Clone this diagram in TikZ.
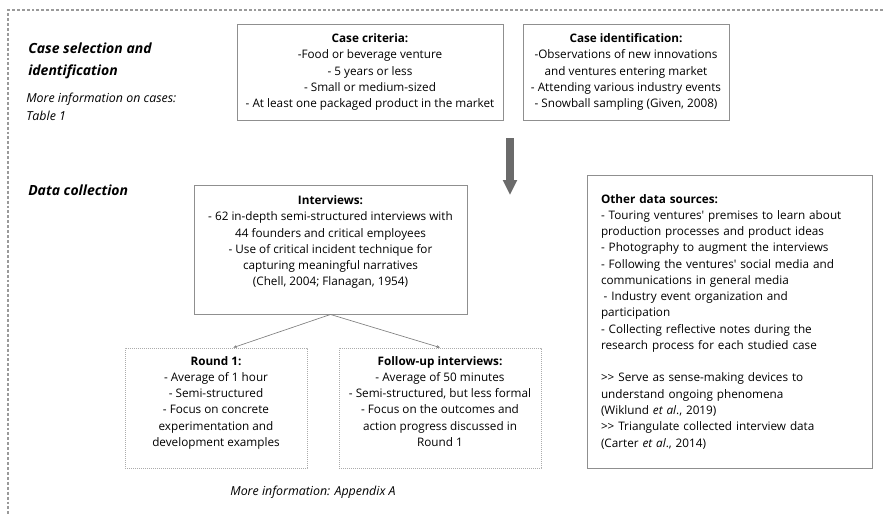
\documentclass[tikz,border=0pt]{standalone}
\usepackage{fontspec}
\setmainfont{Open Sans}
\usetikzlibrary{arrows.meta}
\definecolor{frameGray}{HTML}{9A9A9A}
\definecolor{boxGray}{HTML}{8F8F8F}
\definecolor{roundGray}{HTML}{ABABAB}
\definecolor{arrowGray}{HTML}{6B6B6B}
\newcommand{\boxfont}{\fontsize{8.8}{12.2}\selectfont}
\newcommand{\headfont}{\fontsize{10.5}{16.5}\selectfont\bfseries\itshape}
\newcommand{\notefont}{\fontsize{9.3}{13.5}\selectfont\itshape}
\newcommand{\dblgt}{\textgreater\kern0pt\textgreater}
\newcommand{\sq}{\textquotesingle}
\tikzset{
  box/.style={draw=boxGray, line width=0.7pt, align=center, font=\boxfont, inner sep=2pt},
  roundbox/.style={box, draw=roundGray, dash pattern=on 0.6pt off 0.9pt},
  heading/.style={font=\headfont, anchor=west, align=left, inner sep=0pt},
  note/.style={font=\notefont, anchor=west, align=left, inner sep=0pt},
  link/.style={draw=black!50, line width=0.5pt, -{Stealth[length=2.6pt, width=2.2pt]}},
  frame/.style={draw=frameGray, line width=0.9pt, dash pattern=on 2.2pt off 1.5pt}
}

\begin{document}
\begin{tikzpicture}[x=0.75pt, y=-0.75pt]
  \useasboundingbox (0,0) rectangle (883,515);
  % dotted frame, open to the right and bottom
  \draw[frame] (883,10) -- (8,10) -- (8,515);
  % section headings
  \node[heading] (selhead) at (28,60.5) {Case selection and\\identification};
  \node[note] (casenote) at (26,106.5) {More information on cases:\\Table 1};
  \node[heading] (colhead) at (28,190) {Data collection};
  % case boxes
  \node[box, minimum width=199.5pt, minimum height=72pt] (crit) at (370,72)
    {\textbf{Case criteria:}\\-Food or beverage venture\\- 5 years or less\\- Small or medium-sized\\- At least one packaged product in the market};
  \node[box, minimum width=154.5pt, minimum height=72pt] (ident) at (626,72)
    {\textbf{Case identification:}\\-Observations of new innovations\\and ventures entering market\\- Attending various industry events\\- Snowball sampling (Given, 2008)};
  % block arrow down to data collection
  \coordinate (arrtop) at (510,138);
  \coordinate (arrtip) at (510,195);
  \draw[arrowGray, line width=6pt, -{Triangle[width=10pt, length=11.25pt]}] (arrtop) -- (arrtip);
  % interviews and the two rounds
  \node[box, minimum width=204.75pt, minimum height=96.75pt, text depth=13pt] (intv) at (330.5,249.5)
    {\textbf{Interviews:}\\- 62 in-depth semi-structured interviews with\\44 founders and critical employees\\- Use of critical incident technique for\\capturing meaningful narratives\\(Chell, 2004; Flanagan, 1954)};
  \node[roundbox, minimum width=136.5pt, minimum height=90pt, text depth=10pt] (rone) at (216,408)
    {\textbf{Round 1:}\\- Average of 1 hour\\- Semi-structured\\- Focus on concrete\\experimentation and\\development examples};
  \node[roundbox, minimum width=151.5pt, minimum height=90pt, text depth=10pt] (fup) at (440,408)
    {\textbf{Follow-up interviews:}\\- Average of 50 minutes\\- Semi-structured, but less formal\\- Focus on the outcomes and\\action progress discussed in\\Round 1};
  \draw[link] (intv.south) -- (rone.74);
  \draw[link] (intv.south) -- (fup.north);
  \node[note, anchor=center] (apxnote) at (313,492.5) {More information: Appendix A};
  % other sources
  \node[box, align=left, text width=192.75pt, minimum width=213.75pt, minimum height=219.75pt] (other) at (729.5,321.5)
    {\textbf{Other data sources:}\\- Touring ventures\sq{} premises to learn about\\production processes and product ideas\\- Photography to augment the interviews\\- Following the ventures\sq{} social media and\\communications in general media\\\hspace*{2pt}- Industry event organization and\\participation\\- Collecting reflective notes during the\\research process for each studied case\\[12.2pt]\dblgt{} Serve as sense-making devices to\\understand ongoing phenomena\\(Wiklund \textit{et al}., 2019)\\\dblgt{} Triangulate collected interview data\\(Carter \textit{et al}., 2014)};
\end{tikzpicture}
\end{document}
